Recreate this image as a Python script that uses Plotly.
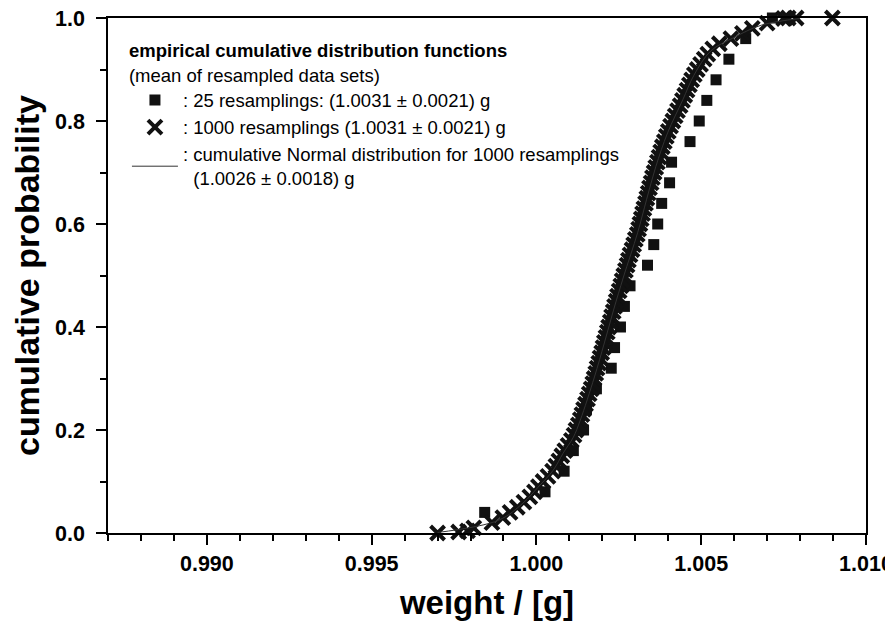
import plotly.graph_objects as go

# ---- data ----
# 25 resamplings: empirical CDF (x = weight in g, y = cumulative probability)
sq_x = [0.99843, 1.00026, 1.00084, 1.00112, 1.00143, 1.00152, 1.00182, 1.00227,
        1.00237, 1.00255, 1.00267, 1.00284, 1.00337, 1.00356, 1.00368, 1.00380,
        1.00404, 1.00410, 1.00466, 1.00494, 1.00517, 1.00545, 1.00584, 1.00635,
        1.00716]
sq_y = [0.04, 0.08, 0.12, 0.16, 0.20, 0.24, 0.28, 0.32, 0.36, 0.40, 0.44, 0.48,
        0.52, 0.56, 0.60, 0.64, 0.68, 0.72, 0.76, 0.80, 0.84, 0.88, 0.92, 0.96,
        1.00]

# 1000 resamplings: empirical CDF, read along the dense band
cr_x = [0.99700, 0.99764, 0.99791,
        0.99810, 0.99865, 0.99898, 0.99920, 0.99942, 0.99962, 0.99980, 0.99994, 1.00006, 1.00020,
        1.00035, 1.00049, 1.00059, 1.00068, 1.00077, 1.00086, 1.00096, 1.00106, 1.00114, 1.00120,
        1.00127, 1.00133, 1.00138, 1.00143, 1.00149, 1.00155, 1.00160, 1.00166, 1.00171, 1.00175,
        1.00180, 1.00184, 1.00189, 1.00193, 1.00198, 1.00202, 1.00206, 1.00211, 1.00215, 1.00219,
        1.00224, 1.00228, 1.00233, 1.00237, 1.00242, 1.00246, 1.00251, 1.00256, 1.00260, 1.00265,
        1.00270, 1.00275, 1.00279, 1.00284, 1.00290, 1.00295, 1.00300, 1.00306, 1.00310, 1.00314,
        1.00318, 1.00322, 1.00326, 1.00331, 1.00335, 1.00339, 1.00343, 1.00348, 1.00352, 1.00357,
        1.00362, 1.00367, 1.00372, 1.00377, 1.00382, 1.00388, 1.00394, 1.00400, 1.00407, 1.00414,
        1.00421, 1.00428, 1.00436, 1.00443, 1.00450, 1.00457, 1.00464, 1.00471, 1.00479, 1.00488,
        1.00498, 1.00509, 1.00520, 1.00535, 1.00555, 1.00590, 1.00625, 1.00655, 1.00700,
        1.00750, 1.00764, 1.00788, 1.00898]
cr_y = [0.000, 0.002, 0.004,
        0.01, 0.02, 0.03, 0.04, 0.05, 0.06, 0.07, 0.08, 0.09, 0.10,
        0.11, 0.12, 0.13, 0.14, 0.15, 0.16, 0.17, 0.18, 0.19, 0.20,
        0.21, 0.22, 0.23, 0.24, 0.25, 0.26, 0.27, 0.28, 0.29, 0.30,
        0.31, 0.32, 0.33, 0.34, 0.35, 0.36, 0.37, 0.38, 0.39, 0.40,
        0.41, 0.42, 0.43, 0.44, 0.45, 0.46, 0.47, 0.48, 0.49, 0.50,
        0.51, 0.52, 0.53, 0.54, 0.55, 0.56, 0.57, 0.58, 0.59, 0.60,
        0.61, 0.62, 0.63, 0.64, 0.65, 0.66, 0.67, 0.68, 0.69, 0.70,
        0.71, 0.72, 0.73, 0.74, 0.75, 0.76, 0.77, 0.78, 0.79, 0.80,
        0.81, 0.82, 0.83, 0.84, 0.85, 0.86, 0.87, 0.88, 0.89, 0.90,
        0.91, 0.92, 0.93, 0.94, 0.95, 0.96, 0.97, 0.98, 0.99,
        0.999, 1.000, 1.000, 1.000]

# cumulative Normal distribution for 1000 resamplings (curve under the band)
nd_x = [0.99700, 0.99886, 0.99959, 1.00005, 1.00051, 1.00081, 1.00112, 1.00133, 1.00176,
        1.00206, 1.00234, 1.00264, 1.00307, 1.00334, 1.00362, 1.00398, 1.00444, 1.00478,
        1.00529, 1.00596, 1.00682, 1.00800]
nd_y = [0.001, 0.025, 0.058, 0.089, 0.122, 0.155, 0.186, 0.219, 0.303,
        0.369, 0.433, 0.497, 0.583, 0.647, 0.711, 0.777, 0.841, 0.889,
        0.936, 0.961, 0.986, 0.999]

x_ticks = [0.990, 0.995, 1.000, 1.005, 1.010]
x_tick_labels = ["0.990", "0.995", "1.000", "1.005", "1.010"]
y_ticks = [0.0, 0.2, 0.4, 0.6, 0.8, 1.0]
y_tick_labels = ["0.0", "0.2", "0.4", "0.6", "0.8", "1.0"]

name_sq = ": 25 resamplings: (1.0031 ± 0.0021) g"
name_cr = ": 1000 resamplings (1.0031 ± 0.0021) g"
name_nd = ": cumulative Normal distribution for 1000 resamplings<br>\u00a0\u00a0(1.0026 ± 0.0018) g"
legend_title = "<b>empirical cumulative distribution functions</b><br>(mean of resampled data sets)"

INK = "#111111"
FONT = "Liberation Sans, Arial, sans-serif"

fig = go.Figure()
fig.add_trace(go.Scatter(
    x=sq_x, y=sq_y, mode="markers", name=name_sq, cliponaxis=False,
    marker=dict(symbol="square", size=11, color=INK, line=dict(width=0)),
))
fig.add_trace(go.Scatter(
    x=cr_x, y=cr_y, mode="markers", name=name_cr, cliponaxis=False,
    marker=dict(symbol="x-thin-open", size=14, color=INK, line=dict(width=4, color=INK)),
))
fig.add_trace(go.Scatter(
    x=nd_x, y=nd_y, mode="lines", name=name_nd, cliponaxis=False,
    line=dict(color="#333333", width=1, shape="spline"),
))

axis_common = dict(
    showline=True, linecolor="black", linewidth=1.5, mirror=True,
    showgrid=False, zeroline=False, automargin=False,
    ticks="outside", ticklen=10, tickwidth=1.5, tickcolor="black",
    ticklabeloverflow="allow",
    tickfont=dict(family=FONT, size=21.5, color="black", weight="bold"),
)

fig.update_xaxes(
    range=[0.987, 1.010], tickmode="array", tickvals=x_ticks, ticktext=x_tick_labels,
    minor=dict(ticks="outside", ticklen=6, tickwidth=1.5, tickcolor="black", dtick=0.001, tick0=0.987),
    title=dict(text="weight / [g]", standoff=22,
               font=dict(family=FONT, size=33, color="black", weight="bold")),
    **axis_common,
)
fig.update_yaxes(
    range=[0, 1.0], tickmode="array", tickvals=y_ticks, ticktext=y_tick_labels,
    ticklabelstandoff=7,
    minor=dict(ticks="outside", ticklen=6, tickwidth=1.5, tickcolor="black", dtick=0.1, tick0=0),
    title=dict(text="cumulative probability", standoff=8,
               font=dict(family=FONT, size=34, color="black", weight="bold")),
    **axis_common,
)

# the page body adds an 8 px offset, so the figure is 8 px smaller than the window
fig.update_layout(
    width=885, height=613,
    margin=dict(l=100, r=27, t=10, b=88),
    paper_bgcolor="white", plot_bgcolor="white",
    showlegend=True,
    legend=dict(
        x=0.0250, y=0.970, xanchor="left", yanchor="top",
        bgcolor="rgba(0,0,0,0)", borderwidth=0,
        font=dict(family=FONT, size=18.5, color="black"),
        title=dict(text=legend_title, font=dict(family=FONT, size=18.5, color="black")),
        itemwidth=46, tracegroupgap=0,
    ),
)

fig.write_html("out.html")
